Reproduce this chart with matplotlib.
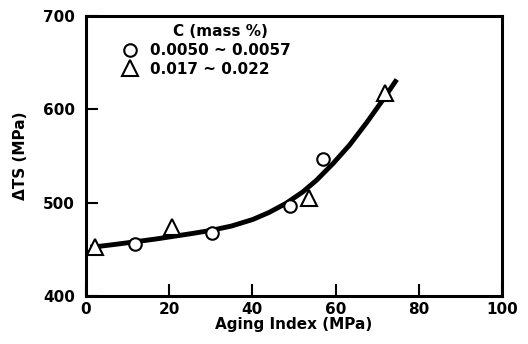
import matplotlib
matplotlib.use("Agg")
import matplotlib.pyplot as plt

# measured points
low_c_x = [11.8, 30.2, 49.0, 56.9]
low_c_y = [456, 467, 496, 547]
high_c_x = [2.2, 20.6, 53.7, 71.9]
high_c_y = [452, 474, 505, 618]

# trend curve
curve_x = [1.0, 2.4, 7, 12.0, 17, 21.6, 26, 30.5, 35, 40.1, 44, 48.1, 52.1, 55.4, 59.4, 63.4, 67.5, 71.5, 74.7]
curve_y = [452.3, 452.8, 455.3, 458.2, 461.2, 464.3, 467.3, 470.7, 475, 482, 489.5, 499.3, 511.5, 524, 542, 562, 586, 611, 632]

plt.rcParams['font.family'] = ['DejaVu Sans']
plt.rcParams['font.weight'] = 'bold'

fig = plt.figure(figsize=(5.28, 3.44), dpi=100)
ax = fig.add_axes([86 / 528, 1 - 296 / 344, (502 - 86) / 528, (296 - 16) / 344])

ax.plot(curve_x, curve_y, color='black', lw=3.5, solid_capstyle='butt', zorder=2)
ax.plot(low_c_x, low_c_y, 'o', ms=9, mfc='white', mec='black', mew=1.5, ls='none',
        label='0.0050 ~ 0.0057', zorder=3)
ax.plot(high_c_x, high_c_y, '^', ms=12, mfc='white', mec='black', mew=1.5, ls='none',
        label='0.017 ~ 0.022', zorder=3)

ax.set_xlim(0, 100)
ax.set_ylim(400, 700)
ax.set_xticks([0, 20, 40, 60, 80, 100])
ax.set_yticks([400, 500, 600, 700])
ax.tick_params(direction='in', length=8.5, width=1.5, labelsize=11)
ax.tick_params(axis='x', pad=4.5)
ax.tick_params(axis='y', pad=8)
for s in ax.spines.values():
    s.set_linewidth(2.2)
for lab in ax.get_xticklabels() + ax.get_yticklabels():
    lab.set_fontweight('bold')

ax.set_xlabel('Aging Index (MPa)', fontsize=11, fontweight='bold', va='baseline')
ax.xaxis.set_label_coords(0.5, (296 - 329) / 280)
ax.set_ylabel('ΔTS (MPa)', fontsize=11, fontweight='bold', va='center')
ax.yaxis.set_label_coords((20 - 86) / 416, 0.5)

ax.text((220 - 86) / 416, (296 - 32) / 280, 'C (mass %)', transform=ax.transAxes,
        ha='center', va='center', fontsize=11, fontweight='bold')
leg = ax.legend(loc='upper left', bbox_to_anchor=((121 - 86) / 416, (296 - 43) / 280),
                frameon=False, handletextpad=0.72, labelspacing=0.25, borderpad=0,
                borderaxespad=0, handlelength=1.2, prop={'size': 11, 'weight': 'bold'})

fig.savefig('out.png', dpi=100)
